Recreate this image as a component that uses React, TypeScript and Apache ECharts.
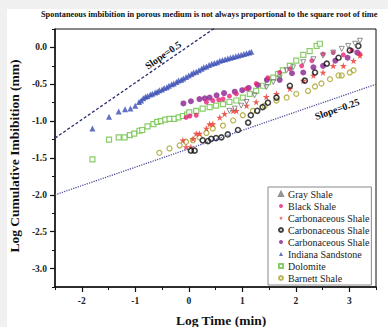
import React, { useEffect, useRef } from "react";
import * as echarts from "echarts";

const titleText =
  "Spontaneous imbibition in porous medium is not always proportional to the square root of time";
const xAxisName = "Log Time (min)";
const yAxisName = "Log Cumulative Imbibition (mm)";

const xTicks = [-2, -1, 0, 1, 2, 3];
const xMinorTicks = [-2.5, -1.5, -0.5, 0.5, 1.5, 2.5, 3.5];
const yTicks = [-3, -2.5, -2, -1.5, -1, -0.5, 0];
const yMinorTicks = [-3.25, -2.75, -2.25, -1.75, -1.25, -0.75, -0.25, 0.25];

const seriesNames = [
  "Gray Shale",
  "Black Shale",
  "Carbonaceous Shale 1",
  "Carbonaceous Shale 2",
  "Carbonaceous Shale 3",
  "Indiana Sandstone",
  "Dolomite",
  "Barnett Shale",
];

const grayShale = [
  [0.76, -0.86], [0.86, -0.83], [0.98, -0.79], [1.08, -0.74], [1.23, -0.65],
  [1.45, -0.54], [1.58, -0.47], [1.7, -0.41], [1.83, -0.31], [1.95, -0.27],
  [2.14, -0.2], [2.33, -0.16], [2.51, -0.11], [2.7, -0.07], [2.86, -0.02],
  [2.98, 0.02], [3.11, 0.05], [3.2, 0.09],
];

const blackShale = [
  [-0.05, -0.95], [0.02, -0.93], [0.14, -0.92], [0.33, -0.74], [0.45, -0.72],
  [0.56, -0.71], [0.64, -0.7], [0.76, -0.66], [0.89, -0.63], [1.08, -0.56],
  [1.26, -0.49], [1.48, -0.41], [1.7, -0.34], [1.89, -0.29], [2.11, -0.25],
  [2.3, -0.18], [2.51, -0.09], [2.7, -0.07], [2.89, -0.1], [3.05, -0.04],
  [3.2, -0.09],
];

const carbShaleStar = [
  [-0.11, -1.26], [-0.05, -1.35], [0.04, -1.35], [0.08, -1.24], [0.14, -1.17],
  [0.2, -1.17], [0.33, -1.1], [0.39, -1.04], [0.45, -1.04], [0.58, -0.95],
  [0.67, -0.9], [0.83, -0.86], [0.89, -0.86], [1.08, -0.79], [1.26, -0.74],
  [1.45, -0.67], [1.64, -0.63], [1.89, -0.56], [2.14, -0.45], [2.33, -0.38],
  [2.51, -0.34], [2.7, -0.25], [2.89, -0.25], [3.08, -0.18], [3.2, -0.11],
];

const carbShaleRing = [
  [0.04, -1.4], [0.11, -1.4], [0.26, -1.26], [0.36, -1.27], [0.42, -1.24],
  [0.51, -1.23], [0.61, -1.22], [0.73, -1.18], [0.92, -1.12], [1.11, -1.02],
  [1.16, -0.92], [1.28, -0.86], [1.38, -0.81], [1.48, -0.75], [1.64, -0.68],
  [1.89, -0.52], [2.17, -0.45], [2.36, -0.34], [2.58, -0.22], [2.8, -0.14],
  [3.01, -0.04], [3.17, 0.02],
];

const carbShaleDot = [
  [-0.1, -0.76], [0.04, -0.73], [0.2, -0.7], [0.3, -0.69], [0.39, -0.68],
  [0.52, -0.65], [0.66, -0.62], [0.86, -0.6], [1.0, -0.58], [1.12, -0.55],
  [1.29, -0.51], [1.46, -0.44], [1.7, -0.44], [1.93, -0.35], [2.14, -0.34],
  [2.33, -0.27], [2.51, -0.25], [2.74, -0.18], [2.97, -0.14], [3.15, -0.07],
];

const indianaSandstone = [
  [-1.8, -1.1], [-1.49, -0.94], [-1.31, -0.87], [-1.19, -0.84], [-1.09, -0.83],
  [-1.0, -0.79], [-0.93, -0.74], [-0.89, -0.72], [-0.85, -0.69], [-0.81, -0.67],
  [-0.77, -0.66], [-0.72, -0.64], [-0.68, -0.63], [-0.63, -0.61], [-0.59, -0.6],
  [-0.55, -0.58], [-0.5, -0.57], [-0.46, -0.55], [-0.41, -0.54], [-0.37, -0.52],
  [-0.32, -0.5], [-0.28, -0.49], [-0.23, -0.47], [-0.19, -0.45], [-0.14, -0.44],
  [-0.1, -0.42], [-0.05, -0.4], [0.0, -0.38], [0.05, -0.36], [0.09, -0.34],
  [0.14, -0.33], [0.19, -0.31], [0.24, -0.29], [0.28, -0.27], [0.33, -0.26],
  [0.38, -0.24], [0.43, -0.22], [0.48, -0.21], [0.53, -0.2], [0.58, -0.18],
  [0.63, -0.17], [0.68, -0.16], [0.73, -0.15], [0.78, -0.14], [0.83, -0.13],
  [0.88, -0.12], [0.93, -0.11], [0.98, -0.1], [1.03, -0.09], [1.08, -0.08],
  [1.13, -0.07], [1.17, -0.06],
];

const dolomite = [
  [-1.8, -1.52], [-1.49, -1.25], [-1.31, -1.22], [-1.2, -1.22], [-1.1, -1.19],
  [-1.02, -1.17], [-0.92, -1.13], [-0.87, -1.12], [-0.77, -1.07], [-0.66, -1.04],
  [-0.59, -1.01], [-0.52, -1.0], [-0.44, -0.98], [-0.36, -0.97], [-0.27, -0.97],
  [-0.19, -0.95], [-0.11, -0.93], [-0.03, -0.91], [0.01, -0.88], [0.14, -0.86],
  [0.26, -0.83], [0.39, -0.81], [0.51, -0.79], [0.64, -0.77], [0.76, -0.74],
  [0.89, -0.72], [1.01, -0.68], [1.14, -0.63], [1.26, -0.59], [1.39, -0.52],
  [1.48, -0.47], [1.58, -0.41], [1.67, -0.36], [1.76, -0.31], [1.89, -0.25],
  [2.01, -0.18], [2.14, -0.1], [2.26, -0.05], [2.39, 0.02], [2.45, 0.05],
];

const barnettShale = [
  [-0.55, -1.43], [-0.36, -1.37], [-0.17, -1.33], [-0.05, -1.28], [0.08, -1.26],
  [0.2, -1.22], [0.33, -1.16], [0.45, -1.1], [0.64, -1.06], [0.83, -0.99],
  [1.01, -0.92], [1.2, -0.86], [1.42, -0.79], [1.64, -0.72], [1.83, -0.68],
  [2.01, -0.63], [2.23, -0.59], [2.36, -0.53], [2.48, -0.49], [2.64, -0.43],
  [2.8, -0.38], [2.86, -0.38], [3.01, -0.34], [3.08, -0.31],
];

const slopeHalfLine = [[-2.5, -1.23], [3.5, 1.77]];
const slopeQuarterLine = [[-2.5, -2.0], [3.5, -0.5]];
const slopeLabels = ["Slope=0.5", "Slope=0.25"];

const STAR =
  "path://M50 0 L61.8 35.1 L98.5 35.1 L68.8 56.8 L79.4 91.5 L50 70 L20.6 91.5 L31.2 56.8 L1.5 35.1 L38.2 35.1 Z";

const SERIF = "Liberation Serif";

export default function App() {
  const ref = useRef<HTMLDivElement>(null);

  useEffect(() => {
    if (!ref.current) return;
    const chart = echarts.init(ref.current, undefined, { renderer: "svg" });

    const scatter = (
      name: string,
      data: number[][],
      symbol: string,
      size: number,
      itemStyle: any,
      extra: any = {}
    ) => ({
      type: "scatter",
      name,
      data,
      symbol,
      symbolSize: size,
      itemStyle,
      xAxisIndex: 0,
      yAxisIndex: 0,
      ...extra,
    });

    const axisLabelStyle = {
      fontFamily: SERIF,
      fontWeight: "bold",
      fontSize: 9.5,
      color: "#222",
    };

    chart.setOption({
      animation: false,
      backgroundColor: "#f0f0f0",
      textStyle: { fontFamily: SERIF },
      grid: {
        left: 55,
        right: 12,
        top: 29,
        bottom: 40,
        show: true,
        borderColor: "#111",
        borderWidth: 1,
        backgroundColor: "#fff",
      },
      legend: {
        data: seriesNames,
        orient: "vertical",
        left: 268,
        top: 187,
        width: 108,
        padding: [1, 2, 1, 10],
        itemGap: 0,
        itemWidth: 4,
        itemHeight: 4,
        itemTextGap: 10,
        borderColor: "#888",
        borderWidth: 1,
        backgroundColor: "#fff",
        formatter: (n: string) => n.replace(/ \d$/, ""),
        textStyle: {
          fontFamily: SERIF,
          fontSize: 10,
          lineHeight: 12,
          color: "#222",
        },
      },
      xAxis: [
        {
          type: "value",
          min: -2.5,
          max: 3.5,
          splitLine: { show: false },
          axisLine: { onZero: false, lineStyle: { color: "#111", width: 1.5 } },
          axisTick: {
            show: true,
            length: 5,
            customValues: xTicks,
            lineStyle: { color: "#111", width: 1.2 },
          },
          axisLabel: {
            ...axisLabelStyle,
            margin: 9,
            customValues: xTicks,
            formatter: (v: number) => String(v),
          },
        },
        {
          type: "value",
          min: -2.5,
          max: 3.5,
          position: "bottom",
          splitLine: { show: false },
          axisLine: { show: false, onZero: false },
          axisTick: {
            show: true,
            length: 3,
            customValues: xMinorTicks,
            lineStyle: { color: "#111", width: 1 },
          },
          axisLabel: { show: false },
        },
      ],
      yAxis: [
        {
          type: "value",
          min: -3.25,
          max: 0.25,
          splitLine: { show: false },
          axisLine: { onZero: false, lineStyle: { color: "#111", width: 1.5 } },
          axisTick: {
            show: true,
            length: 5,
            customValues: yTicks,
            lineStyle: { color: "#111", width: 1.2 },
          },
          axisLabel: {
            ...axisLabelStyle,
            margin: 8,
            customValues: yTicks,
            formatter: (v: number) => v.toFixed(1),
          },
        },
        {
          type: "value",
          min: -3.25,
          max: 0.25,
          position: "left",
          splitLine: { show: false },
          axisLine: { show: false, onZero: false },
          axisTick: {
            show: true,
            length: 3,
            customValues: yMinorTicks,
            lineStyle: { color: "#111", width: 1 },
          },
          axisLabel: { show: false },
        },
      ],
      series: [
        {
          type: "line",
          name: "slope05",
          data: slopeHalfLine,
          symbol: "none",
          silent: true,
          clip: true,
          lineStyle: { color: "#2b2f6e", width: 1.3, type: [3, 2] },
        },
        {
          type: "line",
          name: "slope025",
          data: slopeQuarterLine,
          symbol: "none",
          silent: true,
          clip: true,
          lineStyle: { color: "#4a4c9e", width: 1.3, type: [1.2, 1.2] },
        },
        scatter(seriesNames[5], indianaSandstone, "triangle", 6, {
          color: "#3a4db5",
        }),
        scatter(seriesNames[6], dolomite, "rect", 5, {
          color: "#fff",
          borderColor: "#6cc043",
          borderWidth: 1.2,
        }),
        scatter(seriesNames[4], carbShaleDot, "circle", 6, {
          color: "#8a1f8f",
        }),
        scatter(seriesNames[1], blackShale, "circle", 5, {
          color: "#e8237a",
        }),
        scatter(seriesNames[7], barnettShale, "circle", 5, {
          color: "transparent",
          borderColor: "#aaa22c",
          borderWidth: 1.3,
        }),
        scatter(seriesNames[2], carbShaleStar, STAR, 7, {
          color: "#e8342c",
        }),
        scatter(seriesNames[3], carbShaleRing, "circle", 5, {
          color: "transparent",
          borderColor: "#111",
          borderWidth: 1.6,
        }),
        scatter(
          seriesNames[0],
          grayShale,
          "triangle",
          5,
          { color: "transparent", borderColor: "#777", borderWidth: 1 },
          { symbolRotate: 180 }
        ),
      ],
      graphic: [
        {
          type: "rect",
          z: -100,
          shape: { x: 7, y: 9, width: 400, height: 330 },
          style: { fill: "#fff" },
          silent: true,
        },
        {
          type: "text",
          x: 41,
          y: 14,
          style: {
            text: titleText,
            font: `bold 8.3px ${SERIF}`,
            fill: "#111",
            textAlign: "left",
            textVerticalAlign: "middle",
          },
        },
        {
          type: "text",
          x: 14,
          y: 156,
          rotation: Math.PI / 2,
          style: {
            text: yAxisName,
            font: `bold 13.5px ${SERIF}`,
            fill: "#111",
            textAlign: "center",
            textVerticalAlign: "middle",
          },
        },
        {
          type: "text",
          x: 221,
          y: 320,
          style: {
            text: xAxisName,
            font: `bold 13.5px ${SERIF}`,
            fill: "#111",
            textAlign: "center",
            textVerticalAlign: "middle",
          },
        },
        {
          type: "text",
          x: 163,
          y: 55,
          rotation: 0.607,
          style: {
            text: slopeLabels[0],
            font: `bold 10px ${SERIF}`,
            fill: "#111",
            textAlign: "center",
            textVerticalAlign: "middle",
          },
        },
        {
          type: "text",
          x: 337,
          y: 109,
          rotation: 0.333,
          style: {
            text: slopeLabels[1],
            font: `bold 10px ${SERIF}`,
            fill: "#111",
            textAlign: "center",
            textVerticalAlign: "middle",
          },
        },
      ],
    });

    return () => chart.dispose();
  }, []);

  return (
    <div
      ref={ref}
      style={{ position: "fixed", left: 0, top: 0, width: 388, height: 327 }}
    />
  );
}
